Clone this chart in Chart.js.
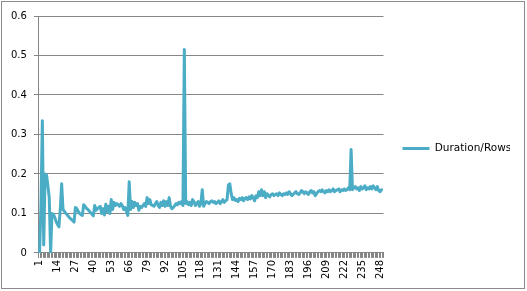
<!DOCTYPE html>
<html>
<head>
<meta charset="utf-8">
<script src="https://cdn.jsdelivr.net/npm/chart.js@4/dist/chart.umd.min.js"></script>
<style>
  html, body { margin: 0; padding: 0; background: #fff; }
  #wrap { position: relative; width: 527px; height: 291px; }
  #frame { position: absolute; left: 1px; top: 1px; width: 522px; height: 286px; border: 1px solid #8c8c8c; pointer-events: none; }
</style>
</head>
<body>
<div id="wrap">
  <canvas id="durChart" width="527" height="291"></canvas>
  <div id="frame"></div>
</div>
<script>
// data (categories 1..250)
const seriesName = 'Duration/Rows';
const durationRows = [
    0, 0.12, 0.335, 0.02, 0.2, 0.198, 0.17, 0.14, 0, 0.1,
    0.098, 0.09, 0.08, 0.072, 0.066, 0.11, 0.175, 0.11, 0.105, 0.1,
    0.097, 0.092, 0.088, 0.085, 0.082, 0.078, 0.115, 0.112, 0.105, 0.1,
    0.097, 0.095, 0.122, 0.118, 0.113, 0.11, 0.106, 0.102, 0.098, 0.094,
    0.12, 0.108, 0.112, 0.115, 0.118, 0.1, 0.112, 0.096, 0.123, 0.105,
    0.118, 0.1, 0.135, 0.11, 0.128, 0.12, 0.125, 0.122, 0.118, 0.125,
    0.12, 0.11, 0.115, 0.105, 0.095, 0.18, 0.11, 0.13, 0.115, 0.128,
    0.12, 0.125, 0.108, 0.118, 0.115, 0.12, 0.125, 0.118, 0.14, 0.125,
    0.135, 0.122, 0.12, 0.118, 0.125, 0.13, 0.12, 0.115, 0.128, 0.12,
    0.132, 0.118, 0.13, 0.12, 0.14, 0.118, 0.112, 0.115, 0.12, 0.125,
    0.122, 0.128, 0.125, 0.13, 0.12, 0.515, 0.125, 0.13, 0.122, 0.128,
    0.12, 0.135, 0.13, 0.12, 0.125, 0.13, 0.118, 0.125, 0.16, 0.118,
    0.125, 0.13, 0.128, 0.125, 0.13, 0.132, 0.128, 0.13, 0.125, 0.128,
    0.132, 0.125, 0.13, 0.135, 0.128, 0.132, 0.135, 0.172, 0.175, 0.15,
    0.135, 0.14, 0.133, 0.135, 0.13, 0.138, 0.135, 0.14, 0.132, 0.138,
    0.14, 0.135, 0.142, 0.137, 0.145, 0.14, 0.132, 0.145, 0.14, 0.155,
    0.145, 0.16, 0.145, 0.155, 0.14, 0.15, 0.145, 0.142, 0.148, 0.15,
    0.145, 0.148, 0.15, 0.145, 0.152, 0.148, 0.145, 0.15, 0.148, 0.152,
    0.148, 0.155, 0.15, 0.145, 0.148, 0.152, 0.155, 0.15, 0.148, 0.152,
    0.158, 0.155, 0.15, 0.155, 0.152, 0.148, 0.155, 0.158, 0.152, 0.155,
    0.145, 0.15, 0.155, 0.158, 0.155, 0.16, 0.155, 0.152, 0.158, 0.155,
    0.16, 0.155, 0.158, 0.162, 0.155, 0.158, 0.16, 0.162, 0.155, 0.16,
    0.158, 0.162, 0.158, 0.16, 0.165, 0.16, 0.262, 0.16, 0.165, 0.168,
    0.162, 0.165, 0.158, 0.168, 0.162, 0.165, 0.17, 0.16, 0.165, 0.162,
    0.168, 0.162, 0.17, 0.165, 0.16, 0.168, 0.158, 0.155, 0.16, 0.16
];
const categories = durationRows.map((v, i) => String(i + 1));
const labelEvery = 13;

const gridGrey = '#868686';
const lineColor = '#4BACC6';

Chart.defaults.font.family = '"DejaVu Sans", sans-serif';
Chart.defaults.font.size = 10;
Chart.defaults.color = '#000';

const ctx = document.getElementById('durChart').getContext('2d');
const durChart = new Chart(ctx, {
    type: 'line',
    data: {
        labels: categories,
        datasets: [{
            // trailing nbsp keeps the legend clip box from eating the last glyph
            label: seriesName + '\u00a0',
            data: durationRows,
            borderColor: lineColor,
            backgroundColor: lineColor,
            borderWidth: 3,
            borderJoinStyle: 'round',
            pointRadius: 0,
            tension: 0
        }]
    },
    options: {
        responsive: false,
        animation: false,
        layout: { padding: { left: 4, top: 16, right: 17, bottom: 10 } },
        plugins: {
            tooltip: { enabled: false },
            legend: {
                position: 'right',
                labels: {
                    usePointStyle: true,
                    pointStyle: 'line',
                    pointStyleWidth: 27,
                    padding: 19,
                    font: { size: 10.5 }
                }
            }
        },
        scales: {
            x: {
                offset: true,
                grid: { offset: true, drawOnChartArea: false, color: gridGrey, tickLength: 5 },
                border: { color: gridGrey },
                ticks: {
                    autoSkip: false,
                    minRotation: 90,
                    maxRotation: 90,
                    padding: 2,
                    callback: function (val, idx) {
                        return idx % labelEvery === 0 ? this.getLabelForValue(val) : '';
                    }
                }
            },
            y: {
                min: 0,
                max: 0.6,
                grid: { color: gridGrey, tickLength: 5 },
                border: { color: gridGrey },
                ticks: { stepSize: 0.1, padding: 7 }
            }
        }
    }
});
</script>
</body>
</html>
